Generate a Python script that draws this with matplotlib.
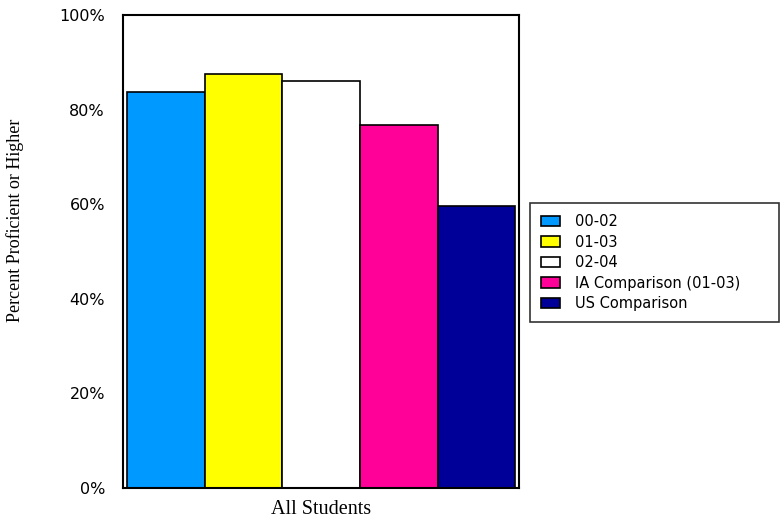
import matplotlib.pyplot as plt
from matplotlib.ticker import PercentFormatter

# Data
series = ["00-02", "01-03", "02-04", "IA Comparison (01-03)", "US Comparison"]
values = [83.8, 87.5, 86.0, 76.7, 59.7]
colors = ["#0099FF", "#FFFF00", "#FFFFFF", "#FF0099", "#000099"]
category = "All Students"

fig = plt.figure(figsize=(7.83, 5.18), dpi=100)
ax = fig.add_axes([0.157, 0.058, 0.506, 0.913])

offsets = [i - (len(series) - 1) / 2 for i in range(len(series))]
for off, val, col, name in zip(offsets, values, colors, series):
    ax.bar(off, val, width=1.0, color=col, edgecolor="black", linewidth=1.2, label=name)

ax.set_xlim(offsets[0] - 0.55, offsets[-1] + 0.55)
ax.set_ylim(0, 100)
ax.set_yticks([0, 20, 40, 60, 80, 100])
ax.yaxis.set_major_formatter(PercentFormatter(decimals=0))
ax.set_xticks([0])
ax.set_xticklabels([category], family="Liberation Serif", fontsize=14.5)
ax.tick_params(axis="both", length=0)
ax.tick_params(axis="y", pad=13, labelsize=11.5)
ax.tick_params(axis="x", pad=9)

# y label sits a bit above the axes centre in the original
fig.text(15 / 783, 1 - 220 / 518, "Percent Proficient or Higher", rotation=90,
         ha="center", va="center", family="Liberation Serif", fontsize=13)

for sp in ax.spines.values():
    sp.set_linewidth(1.5)

leg = fig.legend(loc="upper left", bbox_to_anchor=(0.677, 0.378, 0.318, 0.23),
                 mode="expand", frameon=True, fancybox=False, edgecolor="black",
                 prop={"size": 10.5}, handlelength=1.3, handleheight=0.7, handletextpad=1.0,
                 labelspacing=0.38, borderpad=0.75, borderaxespad=0)
leg.get_frame().set_linewidth(1.2)

plt.savefig("out.png", dpi=100)
